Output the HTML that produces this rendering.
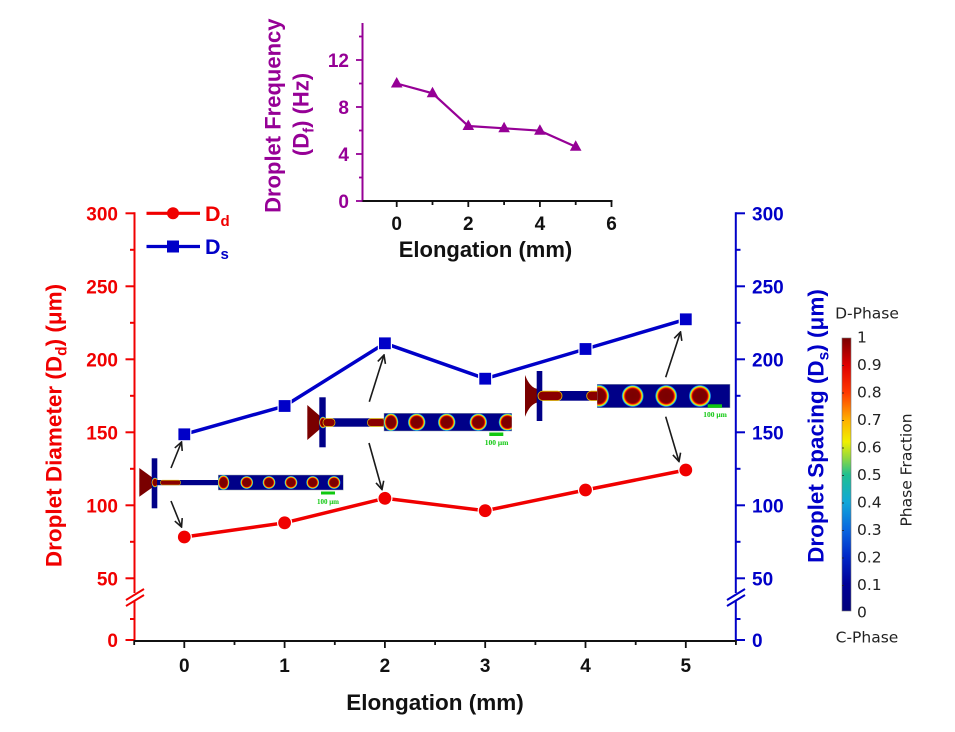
<!DOCTYPE html>
<html><head><meta charset="utf-8"><style>
html,body{margin:0;padding:0;background:#fff;}
svg{display:block;}
.b{font-family:"Liberation Sans",Arial,sans-serif;font-weight:bold;}
.t{font-family:"DejaVu Sans",Verdana,sans-serif;}
</style></head><body>
<svg width="955" height="732" viewBox="0 0 955 732" xmlns="http://www.w3.org/2000/svg">
<defs>
<radialGradient id="dg" cx="0.5" cy="0.5" r="0.5">
<stop offset="0" stop-color="#7a0000"/>
<stop offset="0.6" stop-color="#800000"/>
<stop offset="0.7" stop-color="#e00000"/>
<stop offset="0.78" stop-color="#ff9000"/>
<stop offset="0.84" stop-color="#f0f000"/>
<stop offset="0.9" stop-color="#30d8c8"/>
<stop offset="0.96" stop-color="#1050e0"/>
<stop offset="1" stop-color="#000088"/>
</radialGradient>
<linearGradient id="cb" x1="0" y1="1" x2="0" y2="0">
<stop offset="0" stop-color="#00007a"/>
<stop offset="0.1" stop-color="#000098"/>
<stop offset="0.2" stop-color="#0028c8"/>
<stop offset="0.3" stop-color="#0a68e0"/>
<stop offset="0.4" stop-color="#10a8d8"/>
<stop offset="0.5" stop-color="#20c090"/>
<stop offset="0.56" stop-color="#90d840"/>
<stop offset="0.62" stop-color="#f0f000"/>
<stop offset="0.7" stop-color="#ffb000"/>
<stop offset="0.8" stop-color="#ff3800"/>
<stop offset="0.9" stop-color="#e00000"/>
<stop offset="1" stop-color="#7a0000"/>
</linearGradient>
<clipPath id="c1"><rect x="218.3" y="475" width="125" height="15"/></clipPath>
<clipPath id="c2"><rect x="384" y="413.3" width="127.7" height="17.7"/></clipPath>
<clipPath id="c3"><rect x="597.3" y="384.3" width="132.7" height="23.4"/></clipPath>
<marker id="ah" markerWidth="10" markerHeight="10" refX="9" refY="5" orient="auto" markerUnits="userSpaceOnUse">
<path d="M1,1 L9,5 L1,9" fill="none" stroke="#1a1a1a" stroke-width="1.6"/>
</marker>
</defs>

<!-- ============ INSET ============ -->
<g>
<line x1="362.5" y1="23" x2="362.5" y2="202" stroke="#960096" stroke-width="2"/>
<line x1="361.5" y1="201" x2="612.5" y2="201" stroke="#111" stroke-width="2"/>
<g stroke="#960096" stroke-width="1.8">
<line x1="356" y1="201" x2="362.5" y2="201"/>
<line x1="356" y1="154" x2="362.5" y2="154"/>
<line x1="356" y1="107" x2="362.5" y2="107"/>
<line x1="356" y1="60" x2="362.5" y2="60"/>
<line x1="359" y1="177.5" x2="362.5" y2="177.5"/>
<line x1="359" y1="130.5" x2="362.5" y2="130.5"/>
<line x1="359" y1="83.5" x2="362.5" y2="83.5"/>
<line x1="359" y1="36.5" x2="362.5" y2="36.5"/>
</g>
<g stroke="#111" stroke-width="1.8">
<line x1="396.7" y1="201" x2="396.7" y2="207"/>
<line x1="468.3" y1="201" x2="468.3" y2="207"/>
<line x1="539.9" y1="201" x2="539.9" y2="207"/>
<line x1="611.5" y1="201" x2="611.5" y2="207"/>
<line x1="432.5" y1="201" x2="432.5" y2="205"/>
<line x1="504.1" y1="201" x2="504.1" y2="205"/>
<line x1="575.7" y1="201" x2="575.7" y2="205"/>
</g>
<g class="b" font-size="19" fill="#960096" text-anchor="end">
<text x="349" y="67">12</text>
<text x="349" y="114">8</text>
<text x="349" y="161">4</text>
<text x="349" y="208">0</text>
</g>
<g class="b" font-size="19" fill="#111" text-anchor="middle">
<text x="396.7" y="230">0</text>
<text x="468.3" y="230">2</text>
<text x="539.9" y="230">4</text>
<text x="611.5" y="230">6</text>
</g>
<text class="b" font-size="22" fill="#111" x="485.5" y="257" text-anchor="middle">Elongation (mm)</text>
<text class="b" font-size="22" fill="#960096" text-anchor="middle" transform="translate(280.5,115.7) rotate(-90)">Droplet Frequency</text>
<text class="b" font-size="22" fill="#960096" text-anchor="middle" transform="translate(308.5,114.5) rotate(-90)">(D<tspan font-size="15" dy="5">f</tspan><tspan dy="-5">) (Hz)</tspan></text>
<polyline points="396.7,83.5 432.5,93.3 468.3,126 504.1,128.3 539.9,130.7 575.7,146.7" fill="none" stroke="#960096" stroke-width="2.2"/>
<g fill="#960096">
<polygon points="396.7,77 402.5,87.5 390.9,87.5"/>
<polygon points="432.5,86.8 438.3,97.3 426.7,97.3"/>
<polygon points="468.3,119.5 474.1,130 462.5,130"/>
<polygon points="504.1,121.8 509.9,132.3 498.3,132.3"/>
<polygon points="539.9,124.2 545.7,134.7 534.1,134.7"/>
<polygon points="575.7,140.2 581.5,150.7 569.9,150.7"/>
</g>
</g>

<!-- ============ MAIN AXES ============ -->
<!-- left axis -->
<g stroke="#f00000" stroke-width="2">
<line x1="134.5" y1="212.3" x2="134.5" y2="593"/>
<line x1="134.5" y1="601" x2="134.5" y2="641"/>
<line x1="126" y1="600" x2="144" y2="589"/>
<line x1="126" y1="606" x2="144" y2="595"/>
<line x1="125.5" y1="213.3" x2="134.5" y2="213.3"/>
<line x1="125.5" y1="286.3" x2="134.5" y2="286.3"/>
<line x1="125.5" y1="359.3" x2="134.5" y2="359.3"/>
<line x1="125.5" y1="432.3" x2="134.5" y2="432.3"/>
<line x1="125.5" y1="505.3" x2="134.5" y2="505.3"/>
<line x1="125.5" y1="578.3" x2="134.5" y2="578.3"/>
<line x1="125.5" y1="640" x2="134.5" y2="640"/>
<line x1="130" y1="249.8" x2="134.5" y2="249.8"/>
<line x1="130" y1="322.8" x2="134.5" y2="322.8"/>
<line x1="130" y1="395.8" x2="134.5" y2="395.8"/>
<line x1="130" y1="468.8" x2="134.5" y2="468.8"/>
<line x1="130" y1="541.8" x2="134.5" y2="541.8"/>
<line x1="130" y1="619" x2="134.5" y2="619"/>
</g>
<g class="b" font-size="19" fill="#f00000" text-anchor="end">
<text x="118" y="220.3">300</text>
<text x="118" y="293.3">250</text>
<text x="118" y="366.3">200</text>
<text x="118" y="439.3">150</text>
<text x="118" y="512.3">100</text>
<text x="118" y="585.3">50</text>
<text x="118" y="647">0</text>
</g>
<text class="b" font-size="22.5" fill="#f00000" text-anchor="middle" transform="translate(61.5,425.5) rotate(-90)">Droplet Diameter (D<tspan font-size="15.5" dy="5">d</tspan><tspan dy="-5">) (μm)</tspan></text>

<!-- right axis -->
<g stroke="#0000c8" stroke-width="2">
<line x1="735.8" y1="212.3" x2="735.8" y2="593"/>
<line x1="735.8" y1="601" x2="735.8" y2="641"/>
<line x1="727" y1="600" x2="745" y2="589"/>
<line x1="727" y1="606" x2="745" y2="595"/>
<line x1="735.8" y1="213.3" x2="745" y2="213.3"/>
<line x1="735.8" y1="286.3" x2="745" y2="286.3"/>
<line x1="735.8" y1="359.3" x2="745" y2="359.3"/>
<line x1="735.8" y1="432.3" x2="745" y2="432.3"/>
<line x1="735.8" y1="505.3" x2="745" y2="505.3"/>
<line x1="735.8" y1="578.3" x2="745" y2="578.3"/>
<line x1="735.8" y1="640" x2="745" y2="640"/>
<line x1="735.8" y1="249.8" x2="740.5" y2="249.8"/>
<line x1="735.8" y1="322.8" x2="740.5" y2="322.8"/>
<line x1="735.8" y1="395.8" x2="740.5" y2="395.8"/>
<line x1="735.8" y1="468.8" x2="740.5" y2="468.8"/>
<line x1="735.8" y1="541.8" x2="740.5" y2="541.8"/>
<line x1="735.8" y1="619" x2="740.5" y2="619"/>
</g>
<g class="b" font-size="19" fill="#0000c8" text-anchor="start">
<text x="752" y="220.3">300</text>
<text x="752" y="293.3">250</text>
<text x="752" y="366.3">200</text>
<text x="752" y="439.3">150</text>
<text x="752" y="512.3">100</text>
<text x="752" y="585.3">50</text>
<text x="752" y="647">0</text>
</g>
<text class="b" font-size="22.5" fill="#0000c8" text-anchor="middle" transform="translate(823.5,426) rotate(-90)">Droplet Spacing (D<tspan font-size="15.5" dy="5">s</tspan><tspan dy="-5">) (μm)</tspan></text>

<!-- bottom axis -->
<line x1="133.5" y1="641" x2="736.8" y2="641" stroke="#111" stroke-width="2"/>
<g stroke="#111" stroke-width="1.8">
<line x1="184.3" y1="641" x2="184.3" y2="648"/>
<line x1="284.6" y1="641" x2="284.6" y2="648"/>
<line x1="384.9" y1="641" x2="384.9" y2="648"/>
<line x1="485.2" y1="641" x2="485.2" y2="648"/>
<line x1="585.5" y1="641" x2="585.5" y2="648"/>
<line x1="685.8" y1="641" x2="685.8" y2="648"/>
<line x1="134.2" y1="641" x2="134.2" y2="645"/>
<line x1="234.5" y1="641" x2="234.5" y2="645"/>
<line x1="334.8" y1="641" x2="334.8" y2="645"/>
<line x1="435.1" y1="641" x2="435.1" y2="645"/>
<line x1="535.4" y1="641" x2="535.4" y2="645"/>
<line x1="635.7" y1="641" x2="635.7" y2="645"/>
<line x1="735.9" y1="641" x2="735.9" y2="645"/>
</g>
<g class="b" font-size="19" fill="#111" text-anchor="middle">
<text x="184.3" y="672">0</text>
<text x="284.6" y="672">1</text>
<text x="384.9" y="672">2</text>
<text x="485.2" y="672">3</text>
<text x="585.5" y="672">4</text>
<text x="685.8" y="672">5</text>
</g>
<text class="b" font-size="22.5" fill="#111" x="435" y="710" text-anchor="middle">Elongation (mm)</text>

<!-- legend -->
<line x1="146.5" y1="213.3" x2="200" y2="213.3" stroke="#f00000" stroke-width="3.2"/>
<circle cx="173" cy="213.3" r="6" fill="#f00000"/>
<text class="b" font-size="21.5" fill="#f00000" x="205" y="221">D<tspan font-size="15" dy="5">d</tspan></text>
<line x1="146.5" y1="246.5" x2="200" y2="246.5" stroke="#0000c8" stroke-width="3.2"/>
<rect x="167" y="240.5" width="12" height="12" fill="#0000c8"/>
<text class="b" font-size="21.5" fill="#0000c8" x="205" y="254">D<tspan font-size="15" dy="5">s</tspan></text>

<!-- series -->
<polyline points="184.3,434.3 284.6,406 384.9,343.3 485.2,378.7 585.5,349 685.8,319.3" fill="none" stroke="#0000c8" stroke-width="3.5"/>
<g fill="#0000c8" stroke="#fff" stroke-width="1.2">
<rect x="177.8" y="427.8" width="13" height="13"/>
<rect x="278.1" y="399.5" width="13" height="13"/>
<rect x="378.4" y="336.8" width="13" height="13"/>
<rect x="478.7" y="372.2" width="13" height="13"/>
<rect x="579" y="342.5" width="13" height="13"/>
<rect x="679.3" y="312.8" width="13" height="13"/>
</g>
<polyline points="184.3,537 284.6,522.8 384.9,498.3 485.2,510.7 585.5,490 685.8,470" fill="none" stroke="#f00000" stroke-width="3.5"/>
<g fill="#f00000" stroke="#fff" stroke-width="1.2">
<circle cx="184.3" cy="537" r="7"/>
<circle cx="284.6" cy="522.8" r="7"/>
<circle cx="384.9" cy="498.3" r="7"/>
<circle cx="485.2" cy="510.7" r="7"/>
<circle cx="585.5" cy="490" r="7"/>
<circle cx="685.8" cy="470" r="7"/>
</g>

<!-- arrows -->
<g stroke="#1a1a1a" stroke-width="1.6" marker-end="url(#ah)">
<line x1="171" y1="468" x2="181.5" y2="442"/>
<line x1="171" y1="501" x2="181.5" y2="527"/>
<line x1="369.3" y1="401.7" x2="384" y2="355"/>
<line x1="369" y1="443" x2="382" y2="489.5"/>
<line x1="665.7" y1="377.3" x2="680.5" y2="332"/>
<line x1="665.7" y1="416.7" x2="679" y2="461.5"/>
</g>

<!-- ===== droplet image 1 ===== -->
<g>
<polygon points="139.3,468 153,478 153,487 139.3,496.7" fill="#7a0000"/>
<rect x="151.7" y="458.3" width="5.6" height="50" fill="#000088"/>
<ellipse cx="155" cy="482.5" rx="3.5" ry="5" fill="url(#dg)"/>
<rect x="157" y="480" width="61.5" height="5.2" fill="#000088"/>
<rect x="160.5" y="480.2" width="20" height="4.8" rx="2" fill="#8a0000" stroke="#e0c000" stroke-width="0.6"/>
<rect x="218.3" y="475" width="125" height="15" fill="#000088" stroke="#9aa" stroke-width="0.5"/>
<g clip-path="url(#c1)">
<ellipse cx="223.5" cy="482.5" rx="6" ry="7.8" fill="url(#dg)"/>
<circle cx="246.7" cy="482.5" r="6.6" fill="url(#dg)"/>
<circle cx="269" cy="482.5" r="6.6" fill="url(#dg)"/>
<circle cx="291" cy="482.5" r="6.6" fill="url(#dg)"/>
<circle cx="312.7" cy="482.5" r="6.6" fill="url(#dg)"/>
<circle cx="334" cy="482.5" r="6.6" fill="url(#dg)"/>
</g>
<rect x="321" y="491.5" width="14" height="3" fill="#10c810"/>
<text x="328" y="504" font-family="Liberation Serif,serif" font-weight="bold" font-size="7" fill="#10c810" text-anchor="middle">100 μm</text>
</g>

<!-- ===== droplet image 2 ===== -->
<g>
<polygon points="307.3,405 320,416 320,429 307.3,440" fill="#7a0000"/>
<rect x="319.3" y="397.3" width="6.4" height="50" fill="#000088"/>
<ellipse cx="323" cy="422.5" rx="4" ry="6" fill="url(#dg)"/>
<rect x="325.7" y="418.3" width="58.5" height="8.4" fill="#000088"/>
<rect x="323" y="418.6" width="12" height="7.8" rx="3.5" fill="#8a0000" stroke="#e8c000" stroke-width="0.7"/>
<rect x="367.5" y="418.6" width="18" height="7.8" rx="3.5" fill="#8a0000" stroke="#e8c000" stroke-width="0.7"/>
<rect x="384" y="413.3" width="127.7" height="17.7" fill="#000088" stroke="#9aa" stroke-width="0.5"/>
<g clip-path="url(#c2)">
<ellipse cx="391" cy="422.2" rx="7.5" ry="9.3" fill="url(#dg)"/>
<circle cx="416.7" cy="422.2" r="9" fill="url(#dg)"/>
<circle cx="446.7" cy="422.2" r="9" fill="url(#dg)"/>
<circle cx="478.3" cy="422.2" r="9" fill="url(#dg)"/>
<circle cx="507.5" cy="422.2" r="9" fill="url(#dg)"/>
</g>
<rect x="489.3" y="432.5" width="14" height="3.5" fill="#10c810"/>
<text x="496.5" y="445" font-family="Liberation Serif,serif" font-weight="bold" font-size="7.5" fill="#10c810" text-anchor="middle">100 μm</text>
</g>

<!-- ===== droplet image 3 ===== -->
<g>
<path d="M525,375 Q530,388 537.5,389 L537.5,402.5 Q530,404 525,416.7 Z" fill="#7a0000"/>
<rect x="536.7" y="371" width="5.6" height="50" fill="#000088"/>
<rect x="542.3" y="391" width="55.5" height="9.7" fill="#000088"/>
<rect x="538" y="391.2" width="24" height="9.3" rx="4.5" fill="#8a0000" stroke="#e8c000" stroke-width="0.8"/>
<rect x="586.7" y="391.2" width="14" height="9.3" rx="4.5" fill="#8a0000" stroke="#e8c000" stroke-width="0.8"/>
<rect x="597.3" y="384.3" width="132.7" height="23.4" fill="#000088" stroke="#9aa" stroke-width="0.5"/>
<g clip-path="url(#c3)">
<ellipse cx="599" cy="396" rx="10.5" ry="11.5" fill="url(#dg)"/>
<circle cx="632.7" cy="396" r="11.2" fill="url(#dg)"/>
<circle cx="666.2" cy="396" r="11.2" fill="url(#dg)"/>
<circle cx="700" cy="396" r="11.2" fill="url(#dg)"/>
</g>
<rect x="707.7" y="404.3" width="14.3" height="3.5" fill="#10c810"/>
<text x="715" y="417" font-family="Liberation Serif,serif" font-weight="bold" font-size="7.5" fill="#10c810" text-anchor="middle">100 μm</text>
</g>

<!-- ===== colorbar ===== -->
<rect x="842" y="338" width="9" height="273" fill="url(#cb)" stroke="#777" stroke-width="0.6"/>
<g stroke="#222" stroke-width="0.8">
<line x1="842" y1="365.5" x2="844" y2="365.5"/>
<line x1="842" y1="393" x2="844" y2="393"/>
<line x1="842" y1="420.5" x2="844" y2="420.5"/>
<line x1="842" y1="448" x2="844" y2="448"/>
<line x1="842" y1="475.5" x2="844" y2="475.5"/>
<line x1="842" y1="503" x2="844" y2="503"/>
<line x1="842" y1="530.5" x2="844" y2="530.5"/>
<line x1="842" y1="558" x2="844" y2="558"/>
<line x1="842" y1="585.5" x2="844" y2="585.5"/>
</g>
<g class="t" font-size="15.5" fill="#222">
<text x="857" y="342.5">1</text>
<text x="857" y="370">0.9</text>
<text x="857" y="397.5">0.8</text>
<text x="857" y="425">0.7</text>
<text x="857" y="452.5">0.6</text>
<text x="857" y="480">0.5</text>
<text x="857" y="507.5">0.4</text>
<text x="857" y="535">0.3</text>
<text x="857" y="562.5">0.2</text>
<text x="857" y="590">0.1</text>
<text x="857" y="617.5">0</text>
<text x="867" y="318.5" text-anchor="middle">D-Phase</text>
<text x="867" y="642.5" text-anchor="middle">C-Phase</text>
<text text-anchor="middle" transform="translate(911.5,470) rotate(-90)">Phase Fraction</text>
</g>
</svg>
</body></html>
